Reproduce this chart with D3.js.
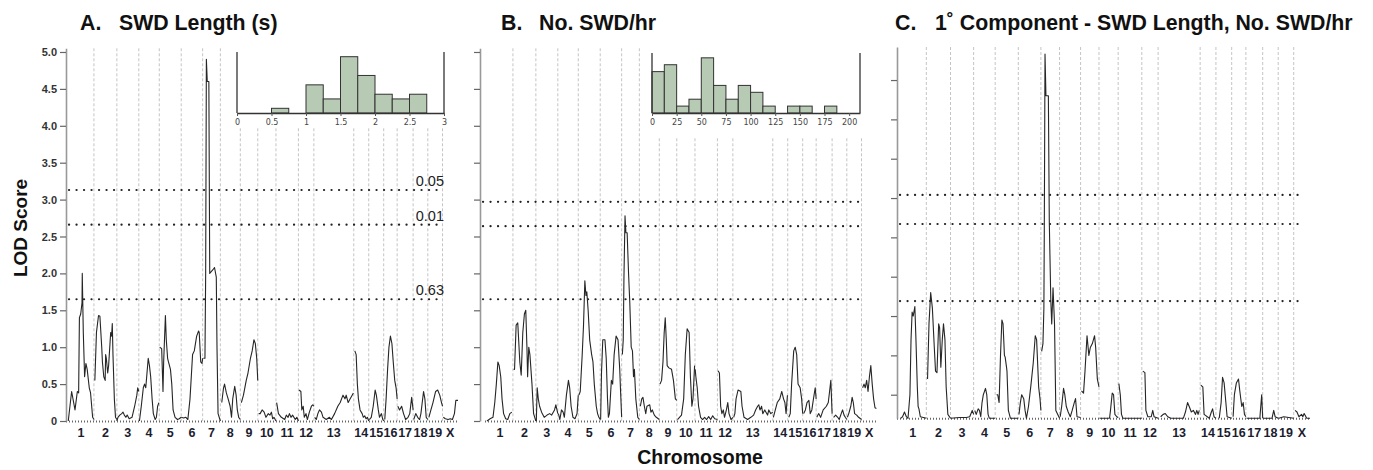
<!DOCTYPE html>
<html>
<head>
<meta charset="utf-8">
<script src="https://cdn.jsdelivr.net/npm/d3@7"></script>
<style>
  body { margin: 0; background: #fff; }
  svg { display: block; font-family: "Liberation Sans", Arial, sans-serif; }
</style>
</head>
<body>
<svg id="chart" width="1373" height="470"></svg>
<script>
// chromosomes and their relative map lengths (cM-like units)
var chromNames = ['1', '2', '3', '4', '5', '6', '7', '8', '9', '10', '11', '12', '13', '14', '15', '16', '17', '18', '19', 'X']
var chromLengths = [104, 92, 88, 82, 88, 86, 71, 80, 70, 73, 90, 62, 160, 60, 60, 54, 64, 59, 59, 62]

// LOD profiles: one list per chromosome, points are [% along chromosome, LOD]
var lodA = [
  [[1, 0], [14, 0.4], [27, 0.15], [36, 0.4], [41, 0.38], [44, 1.4], [49, 1.45], [54, 1.6], [55, 2.0], [59, 1.2], [64, 0.6], [69, 0.78], [74, 0.7], [82, 0.45], [87, 0.38], [95, 0.05], [100, 0.02]],
  [[4, 0.55], [11, 1.2], [20, 1.43], [26, 1.42], [34, 1.0], [37, 0.8], [43, 0.6], [49, 0.55], [51, 0.9], [54, 0.85], [60, 0.65], [64, 0.75], [73, 1.2], [77, 1.15], [80, 1.32], [83, 0.9], [89, 0.3], [94, 0.05], [100, 0.02]],
  [[0, 0], [5, 0.05], [13, 0.08], [22, 0.1], [28, 0.12], [34, 0.08], [41, 0.05], [47, 0.08], [56, 0.03], [69, 0.05], [81, 0.2], [91, 0.35], [95, 0.45], [100, 0.4]],
  [[3, 0], [12, 0.2], [22, 0.45], [28, 0.5], [34, 0.45], [40, 0.65], [46, 0.85], [52, 0.75], [58, 0.6], [65, 0.3], [71, 0.1], [80, 0.02], [86, 0.05], [92, 0.2], [98, 0.25]],
  [[2, 1.0], [11, 0.98], [17, 0.4], [20, 0.8], [28, 1.43], [32, 1.1], [38, 0.85], [42, 0.8], [51, 0.7], [57, 0.5], [63, 0.15], [72, 0.05], [83, 0.02], [91, 0.03], [100, 0.05]],
  [[0, 0.05], [11, 0.04], [22, 0.05], [31, 0.02], [41, 0.3], [47, 0.6], [53, 0.9], [61, 0.95], [72, 1.15], [81, 1.22], [84, 1.2], [91, 0.8], [97, 0.78], [100, 0.85]],
  [[4, 0.85], [13, 0.85], [17, 2.0], [21, 4.9], [26, 4.6], [35, 4.6], [40, 2.0], [58, 2.05], [67, 2.08], [77, 1.95], [81, 1.0], [87, 0.1], [100, 0]],
  [[7, 0.25], [16, 0.45], [21, 0.5], [30, 0.38], [39, 0.3], [49, 0.2], [56, 0.05], [62, 0.3], [72, 0.47], [79, 0.35], [85, 0.15], [92, 0.05], [100, 0.02]],
  [[6, 0.25], [18, 0.35], [34, 0.55], [44, 0.65], [58, 0.85], [68, 0.95], [78, 1.1], [86, 1.05], [94, 0.85], [100, 0.55]],
  [[5, 0.1], [13, 0.1], [24, 0.15], [35, 0.12], [45, 0.05], [58, 0.1], [67, 0.08], [75, 0.12], [82, 0.03], [89, 0.05], [100, 0]],
  [[3, 0.25], [11, 0.1], [24, 0.05], [39, 0.02], [46, 0.08], [54, 0.05], [60, 0.1], [67, 0.05], [74, 0.08], [86, 0.02], [93, 0.05], [100, 0]],
  [[4, 0.42], [16, 0.4], [22, 0.15], [31, 0.2], [38, 0.05], [49, 0.1], [58, 0.02], [71, 0.12], [84, 0.2], [93, 0.22], [100, 0.2]],
  [[2, 0.05], [6, 0.02], [10, 0.1], [14, 0.15], [19, 0.12], [23, 0.05], [31, 0.02], [39, 0.05], [44, 0.02], [52, 0.1], [60, 0.2], [66, 0.25], [73, 0.35], [78, 0.3], [81, 0.35], [86, 0.25], [91, 0.3], [96, 0.35], [99, 0.38]],
  [[7, 0.95], [16, 0.9], [24, 0.5], [31, 0.3], [42, 0.15], [56, 0.1], [64, 0.05], [73, 0.07], [82, 0.03], [91, 0.05], [100, 0]],
  [[4, 0.02], [17, 0.05], [30, 0.2], [43, 0.42], [51, 0.35], [64, 0.15], [72, 0.05], [85, 0.1], [94, 0.02], [100, 0]],
  [[8, 0.02], [18, 0.3], [29, 0.7], [39, 1.0], [50, 1.15], [61, 1.05], [71, 0.8], [82, 0.55], [92, 0.45], [100, 0.3]],
  [[4, 0.2], [15, 0.15], [28, 0.2], [40, 0.1], [53, 0.02], [68, 0.05], [79, 0.1], [91, 0.32], [100, 0.15]],
  [[4, 0.02], [18, 0.1], [31, 0.05], [44, 0.02], [53, 0.1], [62, 0.25], [71, 0.4], [80, 0.3], [89, 0.05], [100, 0.02]],
  [[7, 0.05], [21, 0.15], [35, 0.25], [53, 0.4], [67, 0.42], [81, 0.35], [93, 0.25], [100, 0.2]],
  [[5, 0.05], [18, 0.03], [36, 0.02], [50, 0.03], [64, 0.02], [77, 0.1], [86, 0.28], [100, 0.28]]
]

var lodB = [
  [[0, 0], [12, 0.03], [23, 0.05], [30, 0.25], [36, 0.5], [42, 0.8], [47, 0.75], [53, 0.6], [58, 0.3], [64, 0.1], [72, 0.03], [80, 0.02], [88, 0.1], [96, 0.12]],
  [[3, 0.7], [7, 0.7], [14, 1.3], [21, 1.33], [30, 0.8], [36, 0.62], [43, 1.2], [50, 1.45], [56, 1.5], [61, 1.0], [64, 0.6], [69, 1.0], [74, 0.9], [83, 0.5], [90, 0.1], [100, 0]],
  [[2, 0], [6, 0.45], [11, 0.3], [17, 0.2], [26, 0.12], [38, 0.05], [51, 0.08], [63, 0.1], [72, 0.08], [85, 0.15], [91, 0.22], [100, 0.1]],
  [[3, 0.1], [10, 0.02], [18, 0.15], [26, 0.12], [32, 0.05], [42, 0.35], [52, 0.55], [58, 0.45], [65, 0.2], [74, 0.05], [84, 0.03], [94, 0.1], [100, 0.35]],
  [[3, 0.35], [9, 0.4], [18, 0.9], [24, 1.3], [30, 1.9], [35, 1.7], [39, 1.75], [45, 1.5], [52, 1.1], [61, 0.9], [67, 0.8], [73, 0.5], [82, 0.2], [88, 0.1], [94, 0.05], [100, 0.02]],
  [[2, 0.02], [6, 0.65], [12, 1.1], [22, 1.1], [28, 0.85], [34, 0.3], [38, 0.05], [43, 0.1], [52, 0.55], [58, 0.5], [65, 0.9], [74, 1.15], [83, 1.1], [91, 0.7], [95, 0.4], [100, 0.05]],
  [[4, 0.9], [9, 1.1], [13, 1.95], [19, 2.78], [24, 2.55], [31, 2.55], [39, 2.0], [46, 1.6], [54, 1.0], [61, 0.95], [67, 0.6], [72, 0.7], [80, 0.3], [91, 0.05], [100, 0.02]],
  [[5, 0.2], [12, 0.3], [18, 0.32], [25, 0.2], [32, 0.1], [38, 0.2], [52, 0.22], [58, 0.12], [65, 0.15], [75, 0.08], [85, 0.05], [100, 0.02]],
  [[4, 0.5], [13, 0.55], [21, 0.8], [28, 1.2], [34, 1.4], [40, 1.1], [45, 0.75], [55, 0.72], [70, 0.7], [81, 0.55], [92, 0.3], [100, 0.28]],
  [[4, 0.02], [15, 0.05], [26, 0.08], [38, 0.3], [47, 0.9], [57, 1.25], [68, 1.2], [75, 0.6], [83, 0.2], [89, 0.3], [98, 0.75]],
  [[1, 0.7], [4, 0.6], [10, 0.45], [16, 0.2], [25, 0.05], [34, 0.02], [43, 0.05], [52, 0.02], [61, 0.06], [70, 0.02], [79, 0.07], [88, 0.03], [100, 0.02]],
  [[4, 0.68], [13, 0.65], [21, 0.2], [29, 0.1], [38, 0.15], [46, 0.05], [58, 0.15], [67, 0.25], [75, 0.1], [88, 0.02], [100, 0.05]],
  [[2, 0.05], [5, 0.1], [8, 0.3], [13, 0.42], [20, 0.4], [23, 0.2], [28, 0.05], [37, 0.02], [45, 0.05], [52, 0.08], [57, 0.15], [62, 0.2], [65, 0.22], [68, 0.15], [72, 0.2], [75, 0.1], [80, 0.15], [83, 0.12], [87, 0.08], [90, 0.15], [95, 0.1], [100, 0.12]],
  [[4, 0.05], [17, 0.15], [30, 0.25], [47, 0.3], [60, 0.4], [72, 0.3], [81, 0.25], [89, 0.1], [98, 0.35]],
  [[7, 0.05], [17, 0.1], [26, 0.5], [40, 0.95], [50, 1.0], [60, 0.9], [69, 0.5], [83, 0.45], [93, 0.3], [100, 0.1]],
  [[7, 0.1], [20, 0.15], [32, 0.25], [46, 0.28], [56, 0.1], [68, 0.15], [80, 0.3], [93, 0.45], [100, 0.3]],
  [[4, 0.05], [16, 0.1], [28, 0.05], [44, 0.15], [64, 0.2], [76, 0.25], [84, 0.4], [92, 0.55], [100, 0.1]],
  [[10, 0.05], [24, 0.08], [38, 0.05], [48, 0.02], [62, 0.1], [71, 0.15], [81, 0.08], [90, 0.05], [100, 0.02]],
  [[4, 0.05], [13, 0.1], [27, 0.2], [36, 0.32], [44, 0.25], [53, 0.1], [67, 0.08], [80, 0.05], [100, 0.02]],
  [[7, 0.45], [16, 0.5], [24, 0.45], [33, 0.55], [42, 0.4], [51, 0.6], [60, 0.75], [69, 0.5], [78, 0.3], [87, 0.18], [96, 0.17]]
]

var lodC = [
  [[6, 0], [13, 0.02], [20, 0.08], [27, 0.02], [33, 0], [40, 0.3], [44, 1.0], [48, 1.35], [52, 1.3], [58, 1.42], [62, 1.0], [67, 0.4], [70, 0.15], [73, 0.12], [78, 0.02], [100, 0]],
  [[5, 0.5], [11, 1.2], [18, 1.6], [25, 1.4], [33, 0.9], [38, 0.6], [44, 0.58], [51, 1.2], [55, 1.15], [60, 0.65], [66, 1.0], [71, 1.2], [77, 1.0], [82, 0.4], [89, 0.05], [100, 0]],
  [[0, 0], [39, 0.01], [68, 0.01], [83, 0.02], [94, 0.1], [100, 0.05]],
  [[5, 0.1], [12, 0.05], [21, 0.12], [27, 0.1], [33, 0.02], [39, 0.2], [45, 0.3], [55, 0.38], [61, 0.3], [67, 0.05], [73, 0], [100, 0]],
  [[6, 0.3], [11, 0.3], [17, 0.2], [23, 0.8], [29, 1.25], [34, 1.2], [40, 0.8], [43, 0.78], [49, 0.65], [51, 0.6], [57, 0.1], [66, 0], [100, 0]],
  [[3, 0.05], [9, 0.2], [15, 0.3], [24, 0.25], [30, 0.1], [36, 0], [45, 0.15], [55, 0.4], [66, 0.7], [75, 1.05], [81, 1.0], [90, 0.4], [96, 0.25], [100, 0.1]],
  [[4, 0.85], [11, 0.95], [16, 1.4], [18, 2.3], [22, 4.63], [27, 4.1], [40, 4.1], [45, 2.5], [53, 1.5], [58, 1.2], [65, 1.66], [73, 1.2], [80, 0.1], [100, 0]],
  [[3, 0.02], [10, 0.15], [19, 0.38], [25, 0.3], [32, 0.15], [41, 0.08], [51, 0.02], [60, 0.1], [70, 0.2], [76, 0.25], [83, 0.02], [100, 0.01]],
  [[5, 0.35], [16, 0.32], [24, 0.6], [35, 1.05], [45, 0.8], [53, 0.9], [64, 0.95], [76, 1.05], [82, 0.9], [91, 0.5], [100, 0.4]],
  [[3, 0], [55, 0], [60, 0.1], [69, 0.32], [76, 0.3], [83, 0.05], [93, 0.02], [100, 0.01]],
  [[3, 0.44], [9, 0.3], [14, 0.05], [20, 0], [100, 0]],
  [[6, 0.6], [19, 0.58], [25, 0.1], [37, 0.02], [58, 0.02], [67, 0.1], [75, 0.02], [100, 0]],
  [[6, 0.02], [12, 0.05], [17, 0.06], [23, 0.02], [30, 0], [60, 0], [65, 0.08], [70, 0.2], [74, 0.15], [79, 0.08], [84, 0.1], [89, 0.05], [92, 0.1], [95, 0.05], [98, 0.1]],
  [[4, 0.42], [17, 0.4], [25, 0.05], [58, 0], [71, 0.08], [79, 0.12], [88, 0.02], [100, 0]],
  [[21, 0], [33, 0.2], [42, 0.52], [52, 0.45], [63, 0.2], [71, 0.02], [100, 0]],
  [[10, 0.02], [19, 0.3], [33, 0.45], [48, 0.5], [57, 0.35], [71, 0.15], [81, 0.2], [90, 0.05], [100, 0.02]],
  [[4, 0], [83, 0], [94, 0.3], [100, 0]],
  [[4, 0], [60, 0], [71, 0.1], [80, 0.02], [100, 0]],
  [[4, 0], [36, 0.02], [100, 0]],
  [[8, 0.1], [20, 0.08], [32, 0.02], [48, 0.05], [56, 0.02], [64, 0.06], [80, 0], [100, 0]]
]

// permutation thresholds
var threshA = [3.13, 2.66, 1.65]
var threshB = [2.97, 2.64, 1.65]
var threshC = [2.84, 2.47, 1.49]
var threshLabels = ['0.05', '0.01', '0.63']

// phenotype histograms
var histABinStarts = [0.5, 0.75, 1.0, 1.25, 1.5, 1.75, 2.0, 2.25, 2.5]
var histACounts = [1, 0, 6, 3, 12, 8, 4, 3, 4]
var histAWidth = 0.25
var histATicks = [0, 0.5, 1, 1.5, 2, 2.5, 3]

var histBBinStarts = [0, 12.5, 25, 37.5, 50, 62.5, 75, 87.5, 100, 112.5, 125, 137.5, 150, 162.5, 175]
var histBCounts = [6, 7, 1, 2, 8, 4, 2, 4, 3, 1, 0, 1, 1, 0, 1]
var histBWidth = 12.5
var histBTicks = [0, 25, 50, 75, 100, 125, 150, 175, 200]

var lodTicks = d3.range(0, 5.01, 0.5)

var svg = d3.select('#chart')

var chromStart = []
chromLengths.reduce(function (acc, l, i) { chromStart[i] = acc; return acc + l }, 0)
var genomeLength = d3.sum(chromLengths)

function drawPanel (cfg) {
  var x = d3.scaleLinear().domain([0, genomeLength]).range([cfg.x0, cfg.x1])
  var y = cfg.y
  var pos = function (c, p) { return x(chromStart[c] + p / 100 * chromLengths[c]) }
  var g = svg.append('g').attr('class', 'panel')

  // chromosome boundaries
  g.selectAll('line.bound')
    .data(chromLengths.slice(1)).enter().append('line')
    .attr('class', 'bound')
    .attr('x1', function (d, i) { return x(chromStart[i + 1]) })
    .attr('x2', function (d, i) { return x(chromStart[i + 1]) })
    .attr('y1', y.range()[1])
    .attr('y2', y(0))
    .attr('stroke', '#c4c4c4')
    .attr('stroke-width', 1)
    .attr('stroke-dasharray', '3,2')

  // marker rug along baseline
  g.append('line')
    .attr('x1', cfg.x0 - 2).attr('x2', cfg.x1)
    .attr('y1', y(0) + 0.5).attr('y2', y(0) + 0.5)
    .attr('stroke', '#666')
    .attr('stroke-width', 2)
    .attr('stroke-dasharray', '1,2')

  // threshold lines
  g.selectAll('line.thresh')
    .data(cfg.thresh).enter().append('line')
    .attr('class', 'thresh')
    .attr('x1', cfg.axisX + 3).attr('x2', cfg.threshEnd)
    .attr('y1', function (d) { return y(d) })
    .attr('y2', function (d) { return y(d) })
    .attr('stroke', '#222')
    .attr('stroke-width', 2.2)
    .attr('stroke-linecap', 'round')
    .attr('stroke-dasharray', '0.1,7.4')

  if (cfg.threshText) {
    g.selectAll('text.thresh')
      .data(cfg.thresh).enter().append('text')
      .attr('class', 'thresh')
      .attr('x', cfg.threshEnd)
      .attr('y', function (d) { return y(d) - 4 })
      .attr('text-anchor', 'end')
      .attr('font-size', 14.5)
      .attr('fill', '#222')
      .text(function (d, i) { return threshLabels[i] })
  }

  // LOD curves, one path per chromosome
  var line = d3.line()
    .x(function (d) { return pos(d.c, d.p[0]) })
    .y(function (d) { return y(d.p[1]) })
  g.selectAll('path.lod')
    .data(cfg.lod).enter().append('path')
    .attr('class', 'lod')
    .attr('d', function (pts, c) { return line(pts.map(function (p) { return { c: c, p: p } })) })
    .attr('fill', 'none')
    .attr('stroke', '#262626')
    .attr('stroke-width', 1.1)
    .attr('stroke-linejoin', 'round')

  // y axis
  var ax = d3.axisLeft(y).tickValues(cfg.ticks).tickSize(6).tickSizeOuter(0).tickPadding(3)
  if (cfg.labels) {
    ax.tickFormat(function (d) { return d === 0 ? '0' : d3.format('.1f')(d) })
  } else {
    ax.tickFormat('')
  }
  var gy = g.append('g')
    .attr('transform', 'translate(' + cfg.axisX + ',0)')
    .call(ax)
  gy.select('.domain').attr('stroke', '#999').attr('stroke-width', 1.6)
  gy.selectAll('.tick line').attr('stroke', '#666').attr('stroke-width', 1.2)
  gy.selectAll('.tick text')
    .attr('font-size', 11).attr('font-weight', 'bold').attr('fill', '#333')
    .attr('font-family', '"Liberation Sans", Arial, sans-serif')

  // chromosome labels
  g.selectAll('text.chr')
    .data(chromNames).enter().append('text')
    .attr('class', 'chr')
    .attr('x', function (d, i) { return x(chromStart[i] + chromLengths[i] / 2) })
    .attr('y', 437)
    .attr('text-anchor', 'middle')
    .attr('font-size', 12.5)
    .attr('font-weight', 'bold')
    .attr('fill', '#1c1c30')
    .text(function (d) { return d })

  // panel title
  g.append('text')
    .attr('x', cfg.titleX).attr('y', 30)
    .attr('font-size', 21.3).attr('font-weight', 'bold').attr('fill', '#111')
    .text(cfg.letter)
  g.append('text')
    .attr('x', cfg.titleX2).attr('y', 30)
    .attr('font-size', 21.3).attr('font-weight', 'bold').attr('fill', '#111')
    .text(cfg.title)
}

function drawHist (cfg) {
  var hx = d3.scaleLinear().domain(cfg.xDomain).range(cfg.xRange)
  var hy = d3.scaleLinear().domain([0, cfg.yMax]).range([cfg.base, cfg.top])
  var g = svg.append('g').attr('class', 'inset')

  // white backing so the chromosome lines do not run through the inset
  g.append('rect')
    .attr('x', hx(cfg.xDomain[0]) - 8)
    .attr('y', cfg.top - 8)
    .attr('width', hx(cfg.xDomain[1]) - hx(cfg.xDomain[0]) + 16)
    .attr('height', cfg.boxBottom - cfg.top + 8)
    .attr('fill', '#fff')

  var bins = cfg.counts.map(function (n, i) { return { start: cfg.starts[i], n: n } })
    .filter(function (d) { return d.n > 0 })

  g.selectAll('rect.bar')
    .data(bins).enter().append('rect')
    .attr('class', 'bar')
    .attr('x', function (d) { return hx(d.start) })
    .attr('y', function (d) { return hy(d.n) })
    .attr('width', function (d) { return hx(d.start + cfg.width) - hx(d.start) })
    .attr('height', function (d) { return hy(0) - hy(d.n) })
    .attr('fill', '#b7cab4')
    .attr('stroke', '#333')
    .attr('stroke-width', 1)

  var gx = g.append('g')
    .attr('transform', 'translate(0,' + cfg.base + ')')
    .call(d3.axisBottom(hx).tickValues(cfg.ticks).tickSize(3).tickSizeOuter(0).tickPadding(3)
      .tickFormat(function (d) { return String(d) }))
  gx.select('.domain').attr('stroke', '#333').attr('stroke-width', 1.3)
  gx.selectAll('.tick line').attr('stroke', '#555')
  gx.selectAll('.tick text')
    .attr('font-size', 8).attr('fill', '#444')
    .attr('font-family', '"DejaVu Sans", sans-serif')

  g.selectAll('line.side')
    .data(cfg.xDomain).enter().append('line')
    .attr('class', 'side')
    .attr('x1', function (d) { return hx(d) }).attr('x2', function (d) { return hx(d) })
    .attr('y1', hy(cfg.yMax)).attr('y2', hy(0))
    .attr('stroke', '#333').attr('stroke-width', 1.3)
}

drawPanel({
  x0: 68, x1: 458, axisX: 66, threshEnd: 444,
  y: d3.scaleLinear().domain([0, 5.05]).range([421, 48.3]),
  ticks: lodTicks, labels: true,
  lod: lodA, thresh: threshA, threshText: true,
  letter: 'A.', title: 'SWD Length (s)', titleX: 80, titleX2: 119
})

drawPanel({
  x0: 487, x1: 877, axisX: 480, threshEnd: 863,
  y: d3.scaleLinear().domain([0, 5.05]).range([421, 48.3]),
  ticks: lodTicks, labels: false,
  lod: lodB, thresh: threshB, threshText: false,
  letter: 'B.', title: 'No. SWD/hr', titleX: 501, titleX2: 539
})

drawPanel({
  x0: 899, x1: 1310, axisX: 897, threshEnd: 1305,
  y: d3.scaleLinear().domain([0, 4.72]).range([418.3, 47]),
  ticks: d3.range(0.3, 4.4, 0.5), labels: false,
  lod: lodC, thresh: threshC, threshText: false,
  letter: 'C.', title: '1˚ Component - SWD Length, No. SWD/hr', titleX: 895, titleX2: 935
})

drawHist({
  xDomain: [0, 3], xRange: [237, 444], base: 113, top: 52, yMax: 13, boxBottom: 128,
  starts: histABinStarts, counts: histACounts, width: histAWidth, ticks: histATicks
})

drawHist({
  xDomain: [0, 211], xRange: [652, 860], base: 113, top: 53, yMax: 8.7, boxBottom: 138,
  starts: histBBinStarts, counts: histBCounts, width: histBWidth, ticks: histBTicks
})

// shared axis titles
svg.append('text')
  .attr('transform', 'translate(27,228) rotate(-90)')
  .attr('text-anchor', 'middle')
  .attr('font-size', 19).attr('font-weight', 'bold').attr('fill', '#111')
  .text('LOD Score')

svg.append('text')
  .attr('x', 700).attr('y', 464)
  .attr('text-anchor', 'middle')
  .attr('font-size', 19.5).attr('font-weight', 'bold').attr('fill', '#111')
  .text('Chromosome')
</script>
</body>
</html>
